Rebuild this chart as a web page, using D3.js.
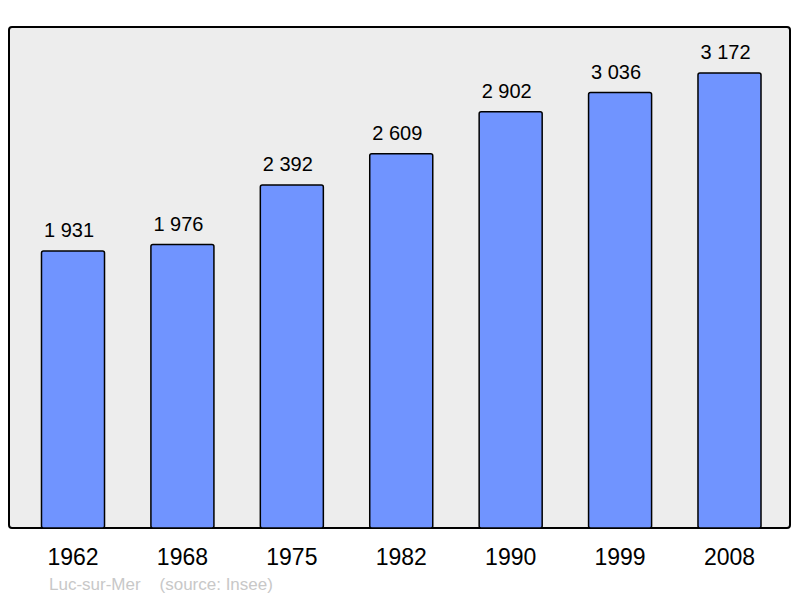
<!DOCTYPE html>
<html>
<head>
<meta charset="utf-8">
<script src="https://cdn.jsdelivr.net/npm/d3@7"></script>
<style>
  body { margin: 0; background: #fff; }
  svg { display: block; font-family: "Liberation Sans", Arial, sans-serif; }
</style>
</head>
<body>
<svg id="chart" width="800" height="598"></svg>
<script>
const years = ["1962", "1968", "1975", "1982", "1990", "1999", "2008"];
const population = [1931, 1976, 2392, 2609, 2902, 3036, 3172];
const town = "Luc-sur-Mer";
const source = "(source: Insee)";

const frame = {left: 9, top: 27, right: 790, bottom: 528};

const svg = d3.select("#chart");

// background frame
svg.append("rect")
    .attr("x", frame.left)
    .attr("y", frame.top)
    .attr("width", frame.right - frame.left)
    .attr("height", frame.bottom - frame.top)
    .attr("rx", 3)
    .attr("fill", "#ededed")
    .attr("stroke", "#000")
    .attr("stroke-width", 2);

const x = d3.scaleBand()
    .domain(years)
    .range([18.3, 784.2])
    .paddingInner(0.424)
    .paddingOuter(0.212);

const y = d3.scaleLinear()
    .domain([0, 3493])
    .range([frame.bottom, frame.top]);

const data = years.map((yr, i) => ({year: yr, value: population[i]}));

svg.append("g").selectAll("rect")
    .data(data)
    .join("rect")
    .attr("x", d => x(d.year))
    .attr("y", d => y(d.value))
    .attr("width", x.bandwidth())
    .attr("height", d => y(0) - y(d.value))
    .attr("rx", 2)
    .attr("fill", "#7094ff")
    .attr("stroke", "#000")
    .attr("stroke-width", 1.5);

// value labels (sit a little left of the bar centre, as in the source)
const fmt = v => d3.format(",")(v).replace(",", " ");
svg.append("g").selectAll("text")
    .data(data)
    .join("text")
    .attr("x", d => x(d.year) + x.bandwidth() / 2 - 4)
    .attr("y", d => y(d.value) - 14)
    .attr("text-anchor", "middle")
    .attr("font-size", 20)
    .attr("fill", "#000")
    .text(d => fmt(d.value));

// year axis labels
const axis = d3.axisBottom(x).tickSize(0).tickPadding(0);
const gx = svg.append("g")
    .attr("transform", `translate(0,${frame.bottom})`)
    .call(axis);
gx.select(".domain").remove();
gx.selectAll("text")
    .attr("dy", null)
    .attr("y", 37)
    .attr("font-size", 23)
    .attr("font-family", "Liberation Sans, Arial, sans-serif")
    .attr("fill", "#000");

// footer
svg.append("text")
    .attr("x", 49)
    .attr("y", 590)
    .attr("font-size", 17)
    .attr("fill", "#c8c8c8")
    .attr("xml:space", "preserve")
    .text(town + "    " + source);
</script>
</body>
</html>
